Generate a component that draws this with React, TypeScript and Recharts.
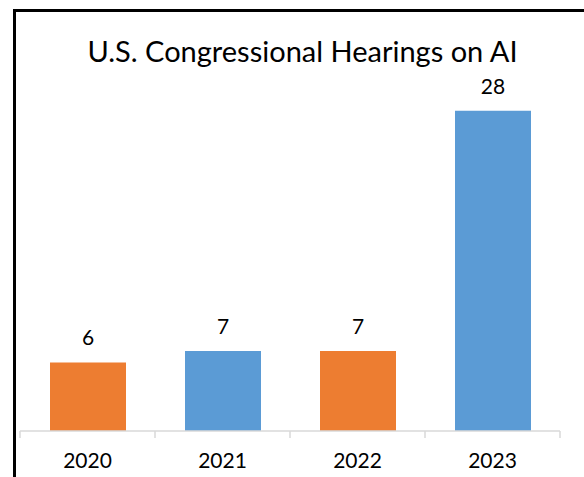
import { BarChart, Bar, XAxis, YAxis, Cell, LabelList } from 'recharts';

// Hearings per year
const years = ['2020', '2021', '2022', '2023'];
const hearings = [6, 7, 7, 28];
const barColors = ['#ED7D31', '#5B9BD5', '#ED7D31', '#5B9BD5'];

const data = years.map((year, i) => ({ year, hearings: hearings[i] }));

const FONT = 'Lato, "Open Sans", sans-serif';
const CHART_W = 584;
const MARGIN = { top: 88, right: 24, left: 20, bottom: 16 };
const BAND = (CHART_W - MARGIN.left - MARGIN.right) / years.length;

// Excel puts the tick marks between categories, not under them
function YearTick(props: any) {
  const { x, y, payload, index } = props;
  const left = x - BAND / 2;
  return (
    <g>
      <line x1={left} y1={y - 8} x2={left} y2={y - 1} stroke="#D9D9D9" strokeWidth={1.5} />
      {index === years.length - 1 && (
        <line x1={left + BAND} y1={y - 8} x2={left + BAND} y2={y - 1} stroke="#D9D9D9" strokeWidth={1.5} />
      )}
      <text x={x} y={y + 29} textAnchor="middle" fontSize={21} fill="#000" fontFamily={FONT}>
        {payload.value}
      </text>
    </g>
  );
}

export default function App() {
  return (
    <div style={{ position: 'absolute', left: 0, top: 0, width: 584, height: 477, overflow: 'hidden', background: '#fff' }}>
      <div
        style={{
          position: 'absolute',
          left: 13,
          top: 9,
          width: 640,
          height: 520,
          border: '3px solid #000',
        }}
      />
      <div
        style={{
          position: 'absolute',
          left: 0,
          width: 605,
          top: 33,
          textAlign: 'center',
          fontFamily: FONT,
          fontSize: 29,
          color: '#000',
          whiteSpace: 'nowrap',
        }}
      >
        U.S. Congressional Hearings on AI
      </div>
      <div style={{ position: 'absolute', left: 0, top: 0 }}>
        <BarChart width={CHART_W} height={477} data={data} margin={MARGIN}>
          <XAxis
            dataKey="year"
            height={30}
            axisLine={{ stroke: '#D9D9D9', strokeWidth: 1.5 }}
            tickLine={false}
            tick={<YearTick />}
            interval={0}
          />
          <YAxis hide domain={[0, 30]} />
          <Bar dataKey="hearings" barSize={76} isAnimationActive={false}>
            {data.map((d, i) => (
              <Cell key={d.year} fill={barColors[i]} />
            ))}
            <LabelList
              dataKey="hearings"
              position="top"
              offset={17}
              fontSize={21}
              fill="#000"
              fontFamily={FONT}
            />
          </Bar>
        </BarChart>
      </div>
    </div>
  );
}
